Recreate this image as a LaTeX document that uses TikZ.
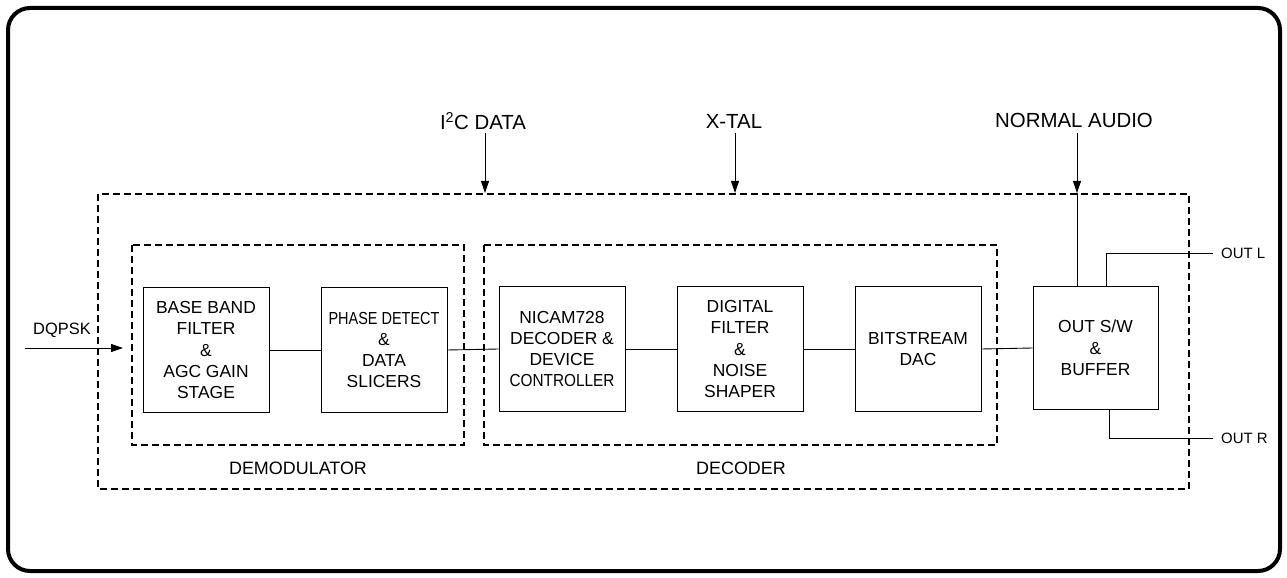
\documentclass[tikz,border=0pt]{standalone}
\usepackage{fontspec}
\setmainfont{Liberation Sans}
\usetikzlibrary{arrows.meta}

\begin{document}
\begin{tikzpicture}[x=1bp,y=-1bp,
  blk/.style={draw, line width=1bp, minimum width=126bp, minimum height=124bp,
    align=center, inner sep=0pt, font=\fontsize{17.5}{21.4}\selectfont},
  grp/.style={line width=1.8bp, dash pattern=on 7bp off 4bp},
  wire/.style={line width=0.9bp},
  sig/.style={wire, -{Triangle[length=12bp,width=8bp]}},
  lbl/.style={inner sep=0pt, font=\fontsize{18}{20}\selectfont},
  tlbl/.style={inner sep=0pt, font=\fontsize{20.5}{22}\selectfont},
  olbl/.style={inner sep=0pt, anchor=west, font=\fontsize{15}{18}\selectfont}]

\useasboundingbox (0,0) rectangle (1287,578);

% frame
\draw[line width=4bp, rounded corners=22bp] (8,8) rectangle (1280,571);

% chip outline and functional groups
\draw[grp] (98,194) rectangle (1189,489);
\draw[grp] (132,245) rectangle (464,445);
\draw[grp] (484,245) rectangle (997,445);
\node[lbl] (demod) at (298,468) {DEMODULATOR};
\node[lbl] (dec) at (741,468) {DECODER};

% processing blocks
\node[blk] (bb) at (206,350) {BASE BAND\\FILTER\\\&\\AGC GAIN\\STAGE};
\node[blk] (pd) at (384,350) {\scalebox{0.83}[1]{PHASE DETECT}\\\&\\DATA\\SLICERS};
\node[blk] (nic) at (562,349) {NICAM728\\DECODER \&\\DEVICE\\\scalebox{0.88}[1]{CONTROLLER}};
\node[blk] (df) at (740,349) {DIGITAL\\FILTER\\\&\\NOISE\\SHAPER};
\node[blk] (dac) at (918,349) {BITSTREAM\\DAC};
\node[blk, minimum width=125bp, minimum height=122bp] (osw) at (1095.5,348) {OUT S/W\\\&\\BUFFER};

% signal chain
\draw[wire] (bb.east) -- (pd.west);
\draw[wire] (pd.east) -- (nic.west);
\draw[wire] (nic.east) -- (df.west);
\draw[wire] (df.east) -- (dac.west);
\draw[wire] (dac.east) -- (osw.west);

% DQPSK input
\node[inner sep=0pt, font=\fontsize{16.5}{20}\selectfont] (dq) at (62,330) {DQPSK};
\coordinate (dqs) at (25,348);
\coordinate (dqe) at (123,348);
\draw[sig] (dqs) -- (dqe);

% control inputs from above
\node[tlbl] (i2c) at (483,121) {I\textsuperscript{2}C DATA};
\node[tlbl] (xtal) at (734,121) {X-TAL};
\node[tlbl] (na) at (1074,120) {NORMAL AUDIO};
\coordinate (i2cs) at (485,133);
\coordinate (i2ce) at (485,193);
\coordinate (xts) at (735,133);
\coordinate (xte) at (735,193);
\coordinate (nas) at (1077,133);
\coordinate (nae) at (1077,193);
\draw[sig] (i2cs) -- (i2ce);
\draw[sig] (xts) -- (xte);
\draw[sig] (nas) -- (nae);
\draw[wire] (nae) -- (osw.north -| nae);

% outputs
\node[olbl] (ol) at (1221,253) {OUT L};
\node[olbl] (or) at (1221,438) {OUT R};
\coordinate (ole) at (1213,253);
\coordinate (ore) at (1213,438);
\coordinate (olx) at (1106,0);
\coordinate (orx) at (1109,0);
\draw[wire] (osw.north -| olx) |- (ole);
\draw[wire] (osw.south -| orx) |- (ore);
\end{tikzpicture}
\end{document}
